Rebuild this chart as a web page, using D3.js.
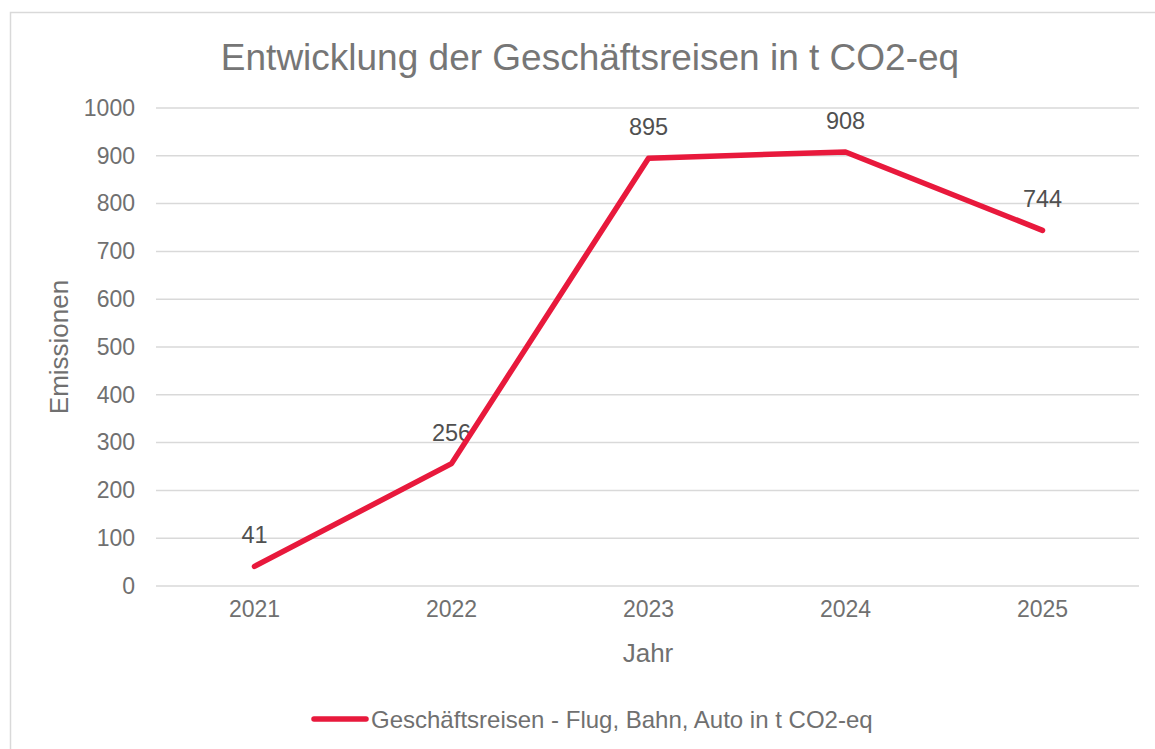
<!DOCTYPE html>
<html>
<head>
<meta charset="utf-8">
<script src="https://cdn.jsdelivr.net/npm/d3@7"></script>
<style>
  html, body { margin: 0; padding: 0; background: #fff; }
  svg { display: block; }
  text { font-family: "Liberation Sans", Arial, sans-serif; }
</style>
</head>
<body>
<script>
const years = ["2021", "2022", "2023", "2024", "2025"];
const emissions = [41, 256, 895, 908, 744];
const yTicks = [0, 100, 200, 300, 400, 500, 600, 700, 800, 900, 1000];
const chartTitle = "Entwicklung der Geschäftsreisen in t CO2-eq";
const seriesName = "Geschäftsreisen - Flug, Bahn, Auto in t CO2-eq";
const xTitle = "Jahr";
const yTitle = "Emissionen";

(function () {
const W = 1155, H = 749;
const svg = d3.select("body").append("svg").attr("width", W).attr("height", H);

// chart border
svg.append("rect").attr("x", 10.5).attr("y", 12.5).attr("width", W + 20).attr("height", H + 20)
  .attr("fill", "#fff").attr("stroke", "#d9d9d9").attr("stroke-width", 1.5);

const pLeft = 156, pRight = 1141, pTop = 108, pBottom = 586;

const x = d3.scaleBand().domain(years).range([pLeft, pRight]);
const y = d3.scaleLinear().domain([0, 1000]).range([pBottom, pTop]);

// gridlines
svg.append("g").selectAll("line").data(yTicks).join("line")
  .attr("x1", pLeft).attr("x2", pRight - 2)
  .attr("y1", d => y(d)).attr("y2", d => y(d))
  .attr("stroke", "#d9d9d9").attr("stroke-width", 1.5);

// y axis labels
const yAxis = svg.append("g").attr("transform", `translate(${pLeft},0)`)
  .call(d3.axisLeft(y).tickValues(yTicks).tickFormat(d3.format("d")).tickSize(0).tickPadding(21));
yAxis.select(".domain").remove();
yAxis.selectAll("text").attr("font-size", 23).attr("fill", "#707070")
  .attr("font-family", "Liberation Sans, Arial, sans-serif");

// x axis labels
const xAxis = svg.append("g").attr("transform", `translate(0,${pBottom})`)
  .call(d3.axisBottom(x).tickSize(0).tickPadding(15));
xAxis.select(".domain").remove();
xAxis.selectAll("text").attr("font-size", 23).attr("fill", "#707070")
  .attr("font-family", "Liberation Sans, Arial, sans-serif");

// title
svg.append("text").attr("x", 590).attr("y", 70).attr("text-anchor", "middle")
  .attr("font-size", 37).attr("fill", "#767676").text(chartTitle);

// axis titles
svg.append("text").attr("x", 648).attr("y", 662).attr("text-anchor", "middle")
  .attr("font-size", 26).attr("fill", "#707070").text(xTitle);
svg.append("text").attr("transform", "translate(68,347) rotate(-90)").attr("text-anchor", "middle")
  .attr("font-size", 26).attr("fill", "#707070").text(yTitle);

const pts = years.map((yr, i) => ({ yr, v: emissions[i] }));

// data labels
svg.append("g").selectAll("text").data(pts).join("text")
  .attr("x", d => x(d.yr) + x.bandwidth() / 2)
  .attr("y", d => y(d.v) - 23)
  .attr("text-anchor", "middle").attr("font-size", 23.5).attr("fill", "#505050")
  .text(d => d.v);

// line
const line = d3.line().x(d => x(d.yr) + x.bandwidth() / 2).y(d => y(d.v));
svg.append("path").datum(pts).attr("d", line)
  .attr("fill", "none").attr("stroke", "#e8193c").attr("stroke-width", 5.5)
  .attr("stroke-linejoin", "round").attr("stroke-linecap", "round");

// legend
svg.append("line").attr("x1", 314).attr("x2", 366).attr("y1", 719).attr("y2", 719)
  .attr("stroke", "#e8193c").attr("stroke-width", 5.5).attr("stroke-linecap", "round");
svg.append("text").attr("x", 371).attr("y", 727.5).attr("font-size", 24).attr("fill", "#707070")
  .text(seriesName);
})();
</script>
</body>
</html>
